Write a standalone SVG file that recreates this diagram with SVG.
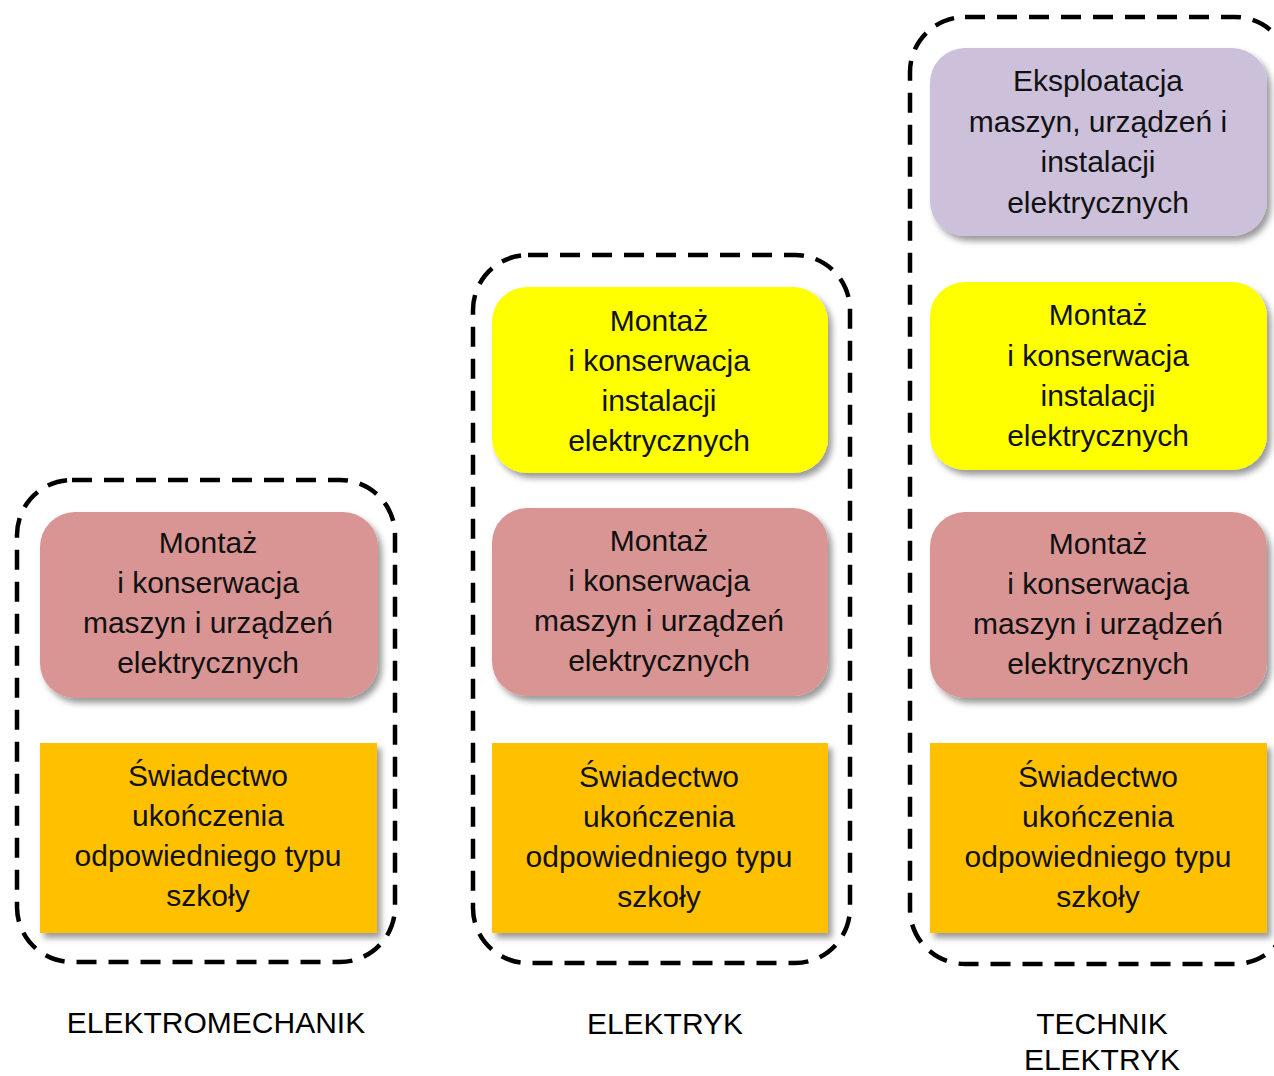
<svg xmlns="http://www.w3.org/2000/svg" width="1274" height="1076" viewBox="0 0 1274 1076">
<defs>
<filter id="sh" x="-10%" y="-10%" width="125%" height="130%">
<feDropShadow dx="4" dy="5" stdDeviation="3" flood-color="#000" flood-opacity="0.4"/>
</filter>
</defs>
<style>
.grp{fill:none;stroke:#000;stroke-width:4.5;stroke-dasharray:20 12}
.pink{fill:#D99594;filter:url(#sh)}
.yel{fill:#FFFF00;filter:url(#sh)}
.org{fill:#FFC000;filter:url(#sh)}
.pur{fill:#CCC0DA;filter:url(#sh)}
text{font-family:"Liberation Sans",Arial,sans-serif;font-size:30px;fill:#111;text-anchor:middle}
.lbl{font-size:30px;fill:#000}
</style>
<rect width="1274" height="1076" fill="#fff"/>
<g id="groups">
<rect id="grp-elektromechanik" class="grp" x="17" y="480" width="378" height="482" rx="55" ry="55"/>
<rect id="grp-elektryk" class="grp" x="473" y="255" width="377" height="708" rx="55" ry="55"/>
<rect id="grp-technik" class="grp" x="910" y="17" width="380" height="947" rx="55" ry="55"/>
</g>
<g id="node-l-pink">
<rect class="pink" x="40" y="512" width="338" height="186" rx="35"/>
<text x="208" y="553">Montaż</text>
<text x="208" y="593">i konserwacja</text>
<text x="208" y="633">maszyn i urządzeń</text>
<text x="208" y="673">elektrycznych</text>
</g>
<g id="node-l-org">
<rect class="org" x="40" y="743" width="337" height="190"/>
<text x="208" y="786">Świadectwo</text>
<text x="208" y="826">ukończenia</text>
<text x="208" y="866">odpowiedniego typu</text>
<text x="208" y="906">szkoły</text>
</g>
<g id="node-m-yel">
<rect class="yel" x="492" y="287" width="336" height="186" rx="35"/>
<text x="659" y="331">Montaż</text>
<text x="659" y="371">i konserwacja</text>
<text x="659" y="411">instalacji</text>
<text x="659" y="451">elektrycznych</text>
</g>
<g id="node-m-pink">
<rect class="pink" x="492" y="508" width="336" height="188" rx="35"/>
<text x="659" y="551">Montaż</text>
<text x="659" y="591">i konserwacja</text>
<text x="659" y="631">maszyn i urządzeń</text>
<text x="659" y="671">elektrycznych</text>
</g>
<g id="node-m-org">
<rect class="org" x="492" y="743" width="336" height="190"/>
<text x="659" y="787">Świadectwo</text>
<text x="659" y="827">ukończenia</text>
<text x="659" y="867">odpowiedniego typu</text>
<text x="659" y="907">szkoły</text>
</g>
<g id="node-r-pur">
<rect class="pur" x="930" y="48" width="337" height="188" rx="35"/>
<text x="1098" y="91">Eksploatacja</text>
<text x="1098" y="132">maszyn, urządzeń i</text>
<text x="1098" y="172">instalacji</text>
<text x="1098" y="213">elektrycznych</text>
</g>
<g id="node-r-yel">
<rect class="yel" x="930" y="282" width="337" height="188" rx="35"/>
<text x="1098" y="325">Montaż</text>
<text x="1098" y="366">i konserwacja</text>
<text x="1098" y="406">instalacji</text>
<text x="1098" y="446">elektrycznych</text>
</g>
<g id="node-r-pink">
<rect class="pink" x="930" y="512" width="337" height="186" rx="35"/>
<text x="1098" y="554">Montaż</text>
<text x="1098" y="594">i konserwacja</text>
<text x="1098" y="634">maszyn i urządzeń</text>
<text x="1098" y="674">elektrycznych</text>
</g>
<g id="node-r-org">
<rect class="org" x="930" y="743" width="337" height="190"/>
<text x="1098" y="787">Świadectwo</text>
<text x="1098" y="827">ukończenia</text>
<text x="1098" y="867">odpowiedniego typu</text>
<text x="1098" y="907">szkoły</text>
</g>
<g id="labels">
<text class="lbl" x="216" y="1033">ELEKTROMECHANIK</text>
<text class="lbl" x="665" y="1034">ELEKTRYK</text>
<text class="lbl" x="1102" y="1034">TECHNIK</text>
<text class="lbl" x="1102" y="1070">ELEKTRYK</text>
</g>
<g id="connectors"></g>
</svg>
